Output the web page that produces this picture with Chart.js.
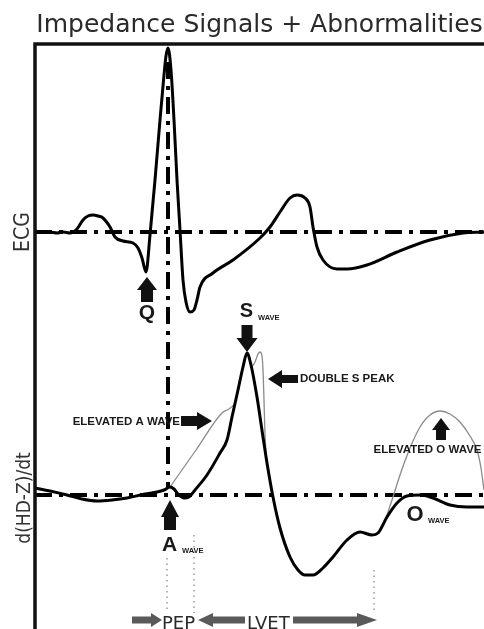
<!DOCTYPE html>
<html lang="en">
<head>
  <meta charset="UTF-8" />
  <title>Impedance Signals + Abnormalities</title>
  <script src="https://cdn.jsdelivr.net/npm/chart.js"></script>
  <style>
    html, body { margin: 0; padding: 0; background: #fff; }
  </style>
</head>
<body>
  <canvas id="chart" width="484" height="629"></canvas>

  <script>
    // ECG trace: time (arbitrary units) and amplitude
    const ecgTime = [0, 7, 15, 22, 28, 35, 42, 48, 53, 58, 63, 68, 75, 80, 88, 98, 103, 107, 111,
      115, 120, 125, 129, 131, 133, 136, 139, 142, 145, 148, 151, 155, 159, 162, 165, 178, 198,
      225, 235, 245, 255, 262, 270, 275, 278, 282, 288, 302, 312, 332, 362, 395, 428, 449];
    const ecgValue = [0.01, 0, 0, -0.01, 0, -0.01, 0.03, 0.12, 0.16, 0.17, 0.16, 0.14, 0.05, -0.05,
      -0.09, -0.11, -0.16, -0.26, -0.40, -0.03, 0.52, 1.12, 1.57, 1.76, 1.84, 1.62, 1.12, 0.52,
      0.02, -0.48, -0.70, -0.80, -0.78, -0.68, -0.55, -0.41, -0.28, -0.06, 0.05, 0.20, 0.34, 0.37,
      0.34, 0.25, 0.05, -0.15, -0.28, -0.37, -0.37, -0.33, -0.20, -0.08, -0.01, 0];

    // impedance derivative d(HD-Z)/dt, normal trace
    const dzTime = [0, 15, 32, 47, 62, 77, 92, 110, 122, 129, 135, 139, 143, 149, 154, 160, 172,
      185, 192, 197, 203, 208, 212, 216, 222, 228, 232, 238, 245, 255, 263, 270, 278, 288, 298,
      312, 325, 337, 343, 352, 362, 372, 385, 398, 415, 432, 449];
    const dzValue = [0.07, 0.04, 0, -0.04, -0.06, -0.05, -0.03, 0.01, 0.03, 0.05, 0.08, 0.06, 0.01,
      -0.03, -0.02, 0.05, 0.20, 0.42, 0.55, 0.78, 1.05, 1.28, 1.42, 1.30, 0.98, 0.58, 0.32, -0.02,
      -0.33, -0.62, -0.75, -0.80, -0.80, -0.73, -0.62, -0.45, -0.37, -0.40, -0.38, -0.22, -0.08,
      -0.01, 0, -0.03, -0.10, -0.12, -0.12];

    // abnormal variants (thin lines)
    const elevATime = [135, 161, 187, 194, 199];
    const elevAValue = [0.08, 0.45, 0.82, 0.86, 0.90];
    const doubleSTime = [214, 217, 220, 223, 225, 227, 228, 229, 230, 232];
    const doubleSValue = [1.37, 1.29, 1.33, 1.41, 1.43, 1.39, 1.25, 0.95, 0.60, 0.33];
    const elevOTime = [351, 358, 365, 375, 385, 395, 405, 415, 425, 435, 442, 446, 449];
    const elevOValue = [-0.23, -0.02, 0.20, 0.47, 0.68, 0.80, 0.84, 0.81, 0.73, 0.59, 0.45, 0.27, 0.05];

    // reference lines
    const baselineSpan = [0, 449];
    const qrsMarkerTime = 133;
    const qrsMarkerSpan = [4.33, 0.08];
    // interval markers (A wave, B point, X point)
    const intervalTimes = [132, 159, 339];
    const intervalTops = [-0.63, -0.40, -0.75];
    const intervalBottom = -1.18;

    const pts = (ts, vs) => ts.map((t, i) => ({ x: t, y: vs[i] }));

    function blockArrow(ctx, x1, y1, x2, y2, shaftW, headW, headLen, color) {
      const ang = Math.atan2(y2 - y1, x2 - x1);
      const len = Math.hypot(x2 - x1, y2 - y1);
      ctx.save();
      ctx.translate(x1, y1);
      ctx.rotate(ang);
      ctx.beginPath();
      ctx.moveTo(0, -shaftW / 2);
      ctx.lineTo(len - headLen, -shaftW / 2);
      ctx.lineTo(len - headLen, -headW / 2);
      ctx.lineTo(len, 0);
      ctx.lineTo(len - headLen, headW / 2);
      ctx.lineTo(len - headLen, shaftW / 2);
      ctx.lineTo(0, shaftW / 2);
      ctx.closePath();
      ctx.fillStyle = color;
      ctx.fill();
      ctx.restore();
    }

    function text(ctx, str, x, y, font, align, baseline, color) {
      ctx.font = font;
      ctx.textAlign = align;
      ctx.textBaseline = baseline;
      ctx.fillStyle = color || '#1a1a1a';
      ctx.fillText(str, x, y);
    }

    const annotations = {
      id: 'annotations',
      afterDatasetsDraw(chart) {
        const { ctx, chartArea: a } = chart;
        const X = t => chart.scales.x.getPixelForValue(t);
        const E = v => chart.scales.ecg.getPixelForValue(v);
        const I = v => chart.scales.imp.getPixelForValue(v);
        const bold = s => 'bold ' + s + 'px "Liberation Sans", Arial, sans-serif';
        ctx.save();

        // frame (left + top)
        ctx.strokeStyle = '#111';
        ctx.lineWidth = 3.5;
        ctx.beginPath();
        ctx.moveTo(a.left, a.bottom);
        ctx.lineTo(a.left, a.top);
        ctx.lineTo(a.right, a.top);
        ctx.stroke();

        // axis labels
        ctx.save();
        ctx.translate(23.5, E(0));
        ctx.rotate(-Math.PI / 2);
        text(ctx, 'ECG', 0, 0, '21px "DejaVu Sans Condensed", "DejaVu Sans", sans-serif', 'center', 'middle', '#333');
        ctx.restore();
        ctx.save();
        ctx.translate(25.5, I(-0.03));
        ctx.rotate(-Math.PI / 2);
        text(ctx, 'd(HD-Z)/dt', 0, 0, '19px "DejaVu Sans Condensed", "DejaVu Sans", sans-serif', 'center', 'middle', '#333');
        ctx.restore();

        // Q
        blockArrow(ctx, X(112), E(-0.70), X(112), E(-0.45), 12, 20, 13, '#111');
        text(ctx, 'Q', X(112), E(-0.815), bold(21), 'center', 'middle');

        // S wave
        text(ctx, 'S', X(211.5), I(1.835), bold(20), 'center', 'middle');
        text(ctx, 'WAVE', X(223), I(1.75), bold(7.5), 'left', 'alphabetic');
        blockArrow(ctx, X(212), I(1.70), X(212), I(1.43), 11, 21, 14, '#111');

        // double S peak
        blockArrow(ctx, X(263), I(1.16), X(233), I(1.16), 8, 18, 14, '#111');
        text(ctx, 'DOUBLE S PEAK', X(265), I(1.16), bold(11.5), 'left', 'middle');

        // elevated A wave
        blockArrow(ctx, X(146), I(0.74), X(177), I(0.74), 10, 18, 15, '#111');
        text(ctx, 'ELEVATED A WAVE', X(145), I(0.735), bold(11.5), 'right', 'middle');

        // elevated O wave
        blockArrow(ctx, X(406), I(0.55), X(406), I(0.77), 10, 18, 12, '#111');
        text(ctx, 'ELEVATED O WAVE', X(392.5), I(0.455), bold(11.5), 'center', 'middle');

        // A wave
        blockArrow(ctx, X(135), I(-0.35), X(135), I(-0.05), 12, 18, 17, '#111');
        text(ctx, 'A', X(134.5), I(-0.505), bold(21), 'center', 'middle');
        text(ctx, 'WAVE', X(147), I(-0.58), bold(7.5), 'left', 'alphabetic');

        // O wave
        text(ctx, 'O', X(380), I(-0.20), bold(22), 'center', 'middle');
        text(ctx, 'WAVE', X(393), I(-0.28), bold(7.5), 'left', 'alphabetic');

        // PEP / LVET intervals
        const yb = I(-1.25);
        const grey = '#5a5a5a';
        blockArrow(ctx, X(97), yb, X(127), yb, 7, 14, 11, grey);
        text(ctx, 'PEP', X(127), I(-1.335), '18px "DejaVu Sans", sans-serif', 'left', 'alphabetic', '#2a2a2a');
        blockArrow(ctx, X(210), yb, X(163), yb, 7, 14, 15, grey);
        text(ctx, 'LVET', X(212), I(-1.335), '18px "DejaVu Sans", sans-serif', 'left', 'alphabetic', '#2a2a2a');
        blockArrow(ctx, X(258), yb, X(342), yb, 7, 14, 20, grey);

        ctx.restore();
      }
    };

    const thick = { borderColor: '#000', borderWidth: 3, pointRadius: 0, cubicInterpolationMode: 'monotone', fill: false };
    const thin = { borderColor: '#8a8a8a', borderWidth: 1.3, pointRadius: 0, cubicInterpolationMode: 'monotone', fill: false };
    const dashDot = { borderColor: '#000', borderWidth: 4, pointRadius: 0, borderDash: [17, 7, 4, 7], fill: false };
    const dotted = { borderColor: '#9a9a9a', borderWidth: 1.5, pointRadius: 0, borderDash: [1.5, 4], fill: false };

    const datasets = [
      { label: 'ECG', data: pts(ecgTime, ecgValue), yAxisID: 'ecg', order: 1, ...thick },
      { label: 'd(HD-Z)/dt', data: pts(dzTime, dzValue), yAxisID: 'imp', order: 1, ...thick },
      { label: 'Elevated A wave', data: pts(elevATime, elevAValue), yAxisID: 'imp', order: 2, ...thin },
      { label: 'Double S peak', data: pts(doubleSTime, doubleSValue), yAxisID: 'imp', order: 2, ...thin },
      { label: 'Elevated O wave', data: pts(elevOTime, elevOValue), yAxisID: 'imp', order: 2, ...thin },
      { label: 'ECG baseline', data: pts(baselineSpan, [0, 0]), yAxisID: 'ecg', order: 3, ...dashDot },
      { label: 'dZ/dt baseline', data: pts(baselineSpan, [0, 0]), yAxisID: 'imp', order: 3, ...dashDot },
      { label: 'R marker', data: pts([qrsMarkerTime, qrsMarkerTime], qrsMarkerSpan), yAxisID: 'imp', order: 3, ...dashDot }
    ];
    intervalTimes.forEach((t, i) => {
      datasets.push({ label: 'interval ' + i, data: pts([t, t], [intervalTops[i], intervalBottom]), yAxisID: 'imp', order: 4, ...dotted });
    });

    new Chart(document.getElementById('chart'), {
      type: 'line',
      data: { datasets },
      options: {
        responsive: false,
        animation: false,
        parsing: false,
        layout: { padding: { left: 35, right: 0, top: 0, bottom: 0 } },
        plugins: {
          legend: { display: false },
          tooltip: { enabled: false },
          title: {
            display: true,
            text: 'Impedance Signals + Abnormalities',
            color: '#2a2a2a',
            font: { family: '"DejaVu Sans", sans-serif', size: 25, weight: 'normal', lineHeight: 1.2 },
            padding: { top: 10, bottom: 4 }
          }
        },
        scales: {
          x: { type: 'linear', min: 0, max: 449, display: false },
          ecg: { type: 'linear', position: 'left', min: -3.97, max: 1.88, display: false },
          imp: { type: 'linear', position: 'left', min: -1.34, max: 4.51, display: false }
        }
      },
      plugins: [annotations]
    });
  </script>
</body>
</html>
